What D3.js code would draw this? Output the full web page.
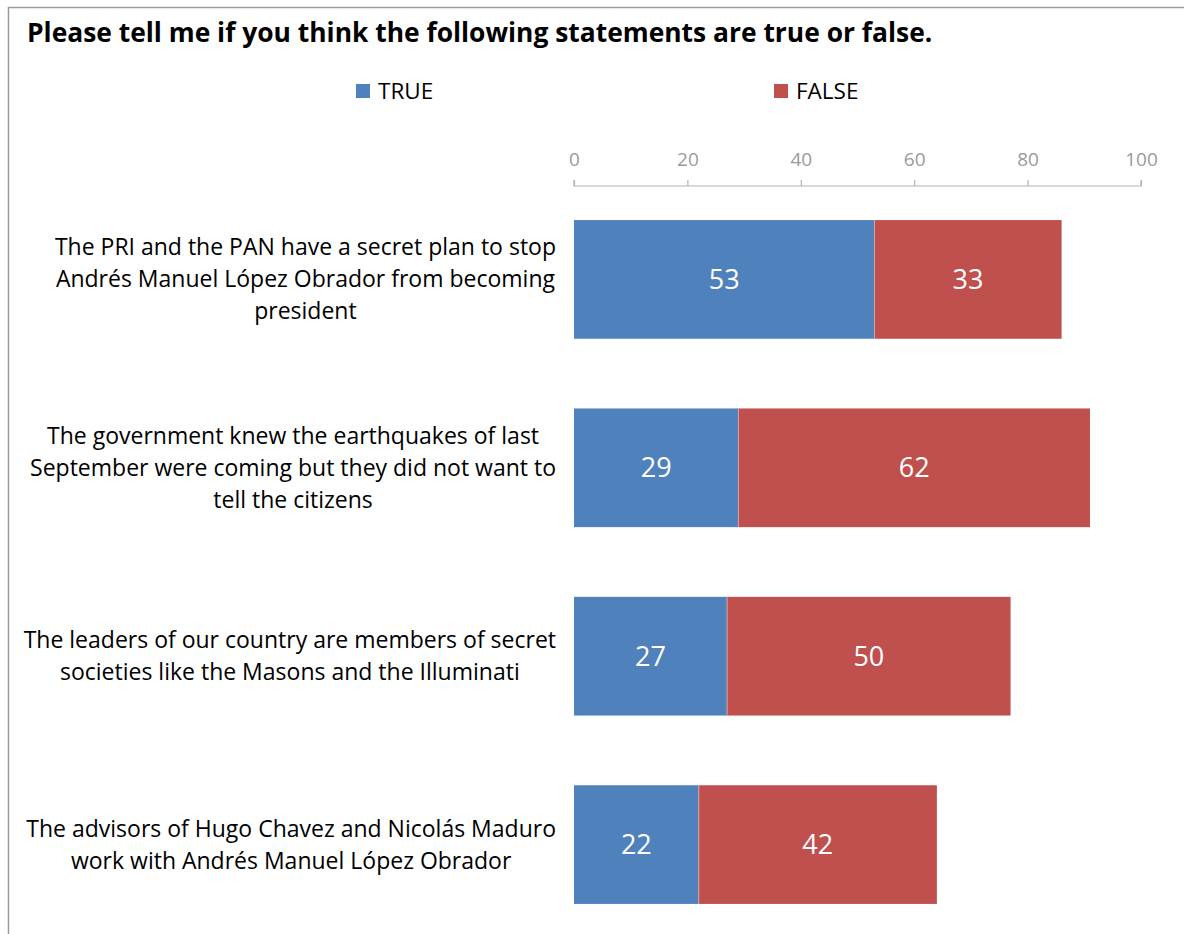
<!DOCTYPE html>
<html>
<head>
<meta charset="utf-8">
<script src="https://cdn.jsdelivr.net/npm/d3@7"></script>
<style>
  body { margin: 0; background: #fff; }
  svg { display: block; font-family: "Open Sans", "Noto Sans", sans-serif; }
</style>
</head>
<body>
<svg id="chart" width="1184" height="934"></svg>
<script>
const categories = [
  ["The PRI and the PAN have a secret plan to stop", "Andrés Manuel López Obrador from becoming", "president"],
  ["The government knew the earthquakes of last", "September were coming but they did not want to", "tell the citizens"],
  ["The leaders of our country are members of secret", "societies like the Masons and the Illuminati"],
  ["The advisors of Hugo Chavez and Nicolás Maduro", "work with Andrés Manuel López Obrador"]
];
const trueValues = [53, 29, 27, 22];
const falseValues = [33, 62, 50, 42];
const xTicks = [0, 20, 40, 60, 80, 100];
const seriesNames = ["TRUE", "FALSE"];
const colors = ["#4f81bd", "#c0504d"];

const margins = { top: 205, left: 574, right: 43, bottom: 15 };
const width = 1184, height = 934;

const svg = d3.select('#chart');

// frame
svg.append('rect')
  .attr('x', 8.5).attr('y', 7.5)
  .attr('width', 1200).attr('height', 1000)
  .attr('fill', 'none')
  .attr('stroke', '#9a9a9a')
  .attr('stroke-width', 1.5);

svg.append('text')
  .attr('x', 27).attr('y', 42)
  .attr('font-size', 26.4)
  .attr('font-weight', 'bold')
  .attr('fill', '#000')
  .text('Please tell me if you think the following statements are true or false.');

// legend
const legendX = [356, 774];
seriesNames.forEach((name, i) => {
  svg.append('rect')
    .attr('x', legendX[i]).attr('y', 84)
    .attr('width', 14).attr('height', 14)
    .attr('fill', colors[i]);
  svg.append('text')
    .attr('x', legendX[i] + 22).attr('y', 99)
    .attr('font-size', 22.5)
    .attr('fill', '#000')
    .text(name);
});

const x = d3.scaleLinear()
  .domain([0, 100])
  .range([margins.left, width - margins.right]);

const y = d3.scaleBand()
  .domain(d3.range(categories.length))
  .range([margins.top, height - margins.bottom])
  .paddingInner(0.37)
  .paddingOuter(0.08);

// axis on top
const xAxis = d3.axisTop(x)
  .tickValues(xTicks)
  .tickSize(6)
  .tickPadding(14);

const axisG = svg.append('g')
  .attr('transform', 'translate(0,186)')
  .call(xAxis);
axisG.select('.domain').attr('stroke', '#b3b3b3').attr('stroke-width', 1.2)
  .attr('d', 'M' + x(0) + ',-6V0H' + x(100) + 'V-6');
axisG.selectAll('.tick line').attr('stroke', '#b3b3b3').attr('stroke-width', 1.2);
axisG.selectAll('.tick text')
  .attr('fill', '#9a9a9a')
  .attr('font-size', 19)
  .attr('font-family', '"Open Sans", "Noto Sans", sans-serif');

const rows = categories.map((c, i) => ({ i, t: trueValues[i], f: falseValues[i] }));

const g = svg.append('g');

// true segments
g.selectAll('.bar-true')
  .data(rows)
  .enter().append('rect')
  .attr('class', 'bar-true')
  .attr('x', x(0))
  .attr('y', d => y(d.i))
  .attr('width', d => x(d.t) - x(0))
  .attr('height', y.bandwidth())
  .attr('fill', colors[0]);

// false segments
g.selectAll('.bar-false')
  .data(rows)
  .enter().append('rect')
  .attr('class', 'bar-false')
  .attr('x', d => x(d.t))
  .attr('y', d => y(d.i))
  .attr('width', d => x(d.t + d.f) - x(d.t))
  .attr('height', y.bandwidth())
  .attr('fill', colors[1]);

// separator between segments
g.selectAll('.sep')
  .data(rows)
  .enter().append('line')
  .attr('x1', d => x(d.t)).attr('x2', d => x(d.t))
  .attr('y1', d => y(d.i)).attr('y2', d => y(d.i) + y.bandwidth())
  .attr('stroke', '#d9a0a0')
  .attr('stroke-width', 1);

// value labels
g.selectAll('.lbl-true')
  .data(rows)
  .enter().append('text')
  .attr('x', d => (x(0) + x(d.t)) / 2)
  .attr('y', d => y(d.i) + y.bandwidth() / 2)
  .attr('dy', '0.35em')
  .attr('text-anchor', 'middle')
  .attr('font-size', 27)
  .attr('fill', '#fff')
  .text(d => d.t);

g.selectAll('.lbl-false')
  .data(rows)
  .enter().append('text')
  .attr('x', d => (x(d.t) + x(d.t + d.f)) / 2)
  .attr('y', d => y(d.i) + y.bandwidth() / 2)
  .attr('dy', '0.35em')
  .attr('text-anchor', 'middle')
  .attr('font-size', 27)
  .attr('fill', '#fff')
  .text(d => d.f);

// category labels: lines centred, block right-aligned to the axis gap
const lineH = 32;
const labelRight = 556;
categories.forEach((lines, i) => {
  const cy = y(i) + y.bandwidth() / 2;
  const t = svg.append('text')
    .attr('text-anchor', 'middle')
    .attr('font-size', 23)
    .attr('fill', '#000');
  const spans = lines.map((ln, j) => t.append('tspan')
    .attr('y', cy + (j - (lines.length - 1) / 2) * lineH)
    .attr('dy', '0.35em')
    .text(ln));
  const maxW = d3.max(spans, s => s.node().getComputedTextLength());
  spans.forEach(s => s.attr('x', labelRight - maxW / 2));
});
</script>
</body>
</html>
